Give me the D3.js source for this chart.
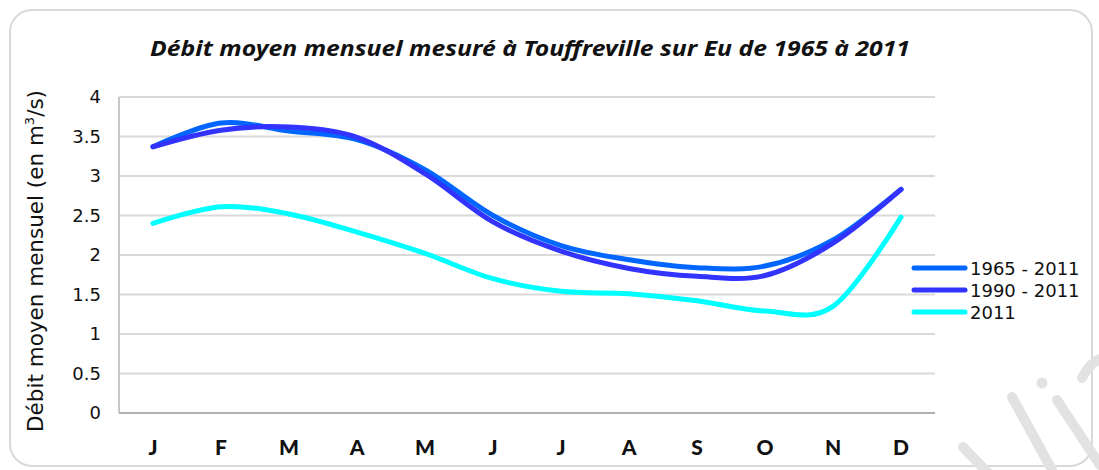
<!DOCTYPE html>
<html>
<head>
<meta charset="utf-8">
<script src="https://cdn.jsdelivr.net/npm/d3@7"></script>
<style>
  body { margin: 0; background: #fff; }
  svg { display: block; }
</style>
</head>
<body>
<svg id="chart" width="1099" height="470"></svg>
<script>
// Chart values
const months = ["J", "F", "M", "A", "M", "J", "J", "A", "S", "O", "N", "D"];
const serie1965 = [3.37, 3.67, 3.57, 3.46, 3.08, 2.5, 2.12, 1.94, 1.84, 1.86, 2.19, 2.83];
const serie1990 = [3.37, 3.58, 3.62, 3.49, 3.03, 2.42, 2.05, 1.83, 1.73, 1.74, 2.15, 2.83];
const serie2011 = [2.4, 2.61, 2.52, 2.29, 2.02, 1.7, 1.54, 1.51, 1.42, 1.29, 1.35, 2.48];
const yTicks = [0, 0.5, 1, 1.5, 2, 2.5, 3, 3.5, 4];

const series = [
	{ name: "1965 - 2011", values: serie1965, color: "#0066ff" },
	{ name: "1990 - 2011", values: serie1990, color: "#3333ff" },
	{ name: "2011", values: serie2011, color: "#00ffff" },
];

const svg = d3.select("#chart");
const plot = { left: 119, right: 935, top: 97, bottom: 413 };
const fontMain = "'DejaVu Sans', 'Noto Sans', sans-serif";

// outer frame
svg
	.append("rect")
	.attr("x", 10)
	.attr("y", 10)
	.attr("width", 1082)
	.attr("height", 456)
	.attr("rx", 22)
	.attr("fill", "#fff")
	.attr("stroke", "#d9d9d9")
	.attr("stroke-width", 2);

// watermark strokes in the lower right corner (decoration only)
const wm = svg
	.append("g")
	.attr("stroke", "#e2e2e2")
	.attr("stroke-width", 10)
	.attr("stroke-linecap", "round")
	.attr("fill", "none");
wm.append("path").attr("d", "M963,447 L988,473");
wm.append("path").attr("d", "M1012,397 L1052,470");
wm.append("path").attr("d", "M1057,400 L1100,465");
wm.append("path").attr("d", "M1082,378 Q1090,362 1102,358");
wm.append("circle")
	.attr("cx", 1042)
	.attr("cy", 383)
	.attr("r", 5.5)
	.attr("fill", "#e2e2e2")
	.attr("stroke", "none");

const x = d3
	.scaleBand()
	.domain(d3.range(months.length))
	.range([plot.left, plot.right]);
const y = d3.scaleLinear().domain([0, 4]).range([plot.bottom, plot.top]);

// gridlines
svg
	.append("g")
	.selectAll("line")
	.data(yTicks.filter((d) => d > 0))
	.join("line")
	.attr("x1", plot.left)
	.attr("x2", plot.right)
	.attr("y1", (d) => y(d))
	.attr("y2", (d) => y(d))
	.attr("stroke", "#d9d9d9")
	.attr("stroke-width", 2);

// axes lines
svg
	.append("line")
	.attr("x1", plot.left)
	.attr("x2", plot.left)
	.attr("y1", plot.top)
	.attr("y2", plot.bottom)
	.attr("stroke", "#c8c8c8")
	.attr("stroke-width", 2);
svg
	.append("line")
	.attr("x1", plot.left)
	.attr("x2", plot.right)
	.attr("y1", plot.bottom)
	.attr("y2", plot.bottom)
	.attr("stroke", "#b0b0b0")
	.attr("stroke-width", 2);

// y tick labels
svg
	.append("g")
	.selectAll("text")
	.data(yTicks)
	.join("text")
	.attr("x", 101)
	.attr("y", (d) => y(d) + 6)
	.attr("text-anchor", "end")
	.attr("font-family", fontMain)
	.attr("font-size", 18)
	.attr("fill", "#111")
	.text((d) => d);

// x tick labels
svg
	.append("g")
	.selectAll("text")
	.data(months)
	.join("text")
	.attr("x", (d, i) => x(i) + x.bandwidth() / 2)
	.attr("y", 455)
	.attr("text-anchor", "middle")
	.attr("font-family", "Lato, 'Noto Sans', sans-serif")
	.attr("font-weight", 900)
	.attr("font-size", 21)
	.attr("fill", "#111")
	.text((d) => d);

// title
svg
	.append("text")
	.attr("x", 530)
	.attr("y", 56)
	.attr("text-anchor", "middle")
	.attr("font-family", "'Noto Sans', sans-serif")
	.attr("font-weight", "bold")
	.attr("font-style", "italic")
	.attr("font-size", 21)
	.attr("textLength", 760)
	.attr("lengthAdjust", "spacingAndGlyphs")
	.attr("fill", "#111")
	.text("Débit moyen mensuel mesuré à Touffreville sur Eu de 1965 à 2011");

// y axis title
const yTitle = svg
	.append("text")
	.attr("transform", "translate(43,261) rotate(-90)")
	.attr("text-anchor", "middle")
	.attr("font-family", fontMain)
	.attr("font-size", 21.5)
	.attr("fill", "#111");
yTitle.append("tspan").text("Débit moyen mensuel (en m");
yTitle.append("tspan").attr("font-size", 13).attr("dy", -9).text("3");
yTitle.append("tspan").attr("dy", 9).text("/s)");

// lines
const line = d3
	.line()
	.x((d, i) => x(i) + x.bandwidth() / 2)
	.y((d) => y(d))
	.curve(d3.curveCardinal.tension(0));

svg
	.append("g")
	.selectAll("path")
	.data(series)
	.join("path")
	.attr("d", (d) => line(d.values))
	.attr("fill", "none")
	.attr("stroke", (d) => d.color)
	.attr("stroke-width", 5)
	.attr("stroke-linecap", "round");

// legend
const legend = svg
	.append("g")
	.selectAll("g")
	.data(series)
	.join("g")
	.attr("transform", (d, i) => `translate(914,${268 + i * 22})`);
legend
	.append("line")
	.attr("x1", 0)
	.attr("x2", 51)
	.attr("stroke", (d) => d.color)
	.attr("stroke-width", 5)
	.attr("stroke-linecap", "round");
legend
	.append("text")
	.attr("x", 56)
	.attr("y", 7)
	.attr("font-family", fontMain)
	.attr("font-size", 18)
	.attr("fill", "#111")
	.text((d) => d.name);
</script>
</body>
</html>
